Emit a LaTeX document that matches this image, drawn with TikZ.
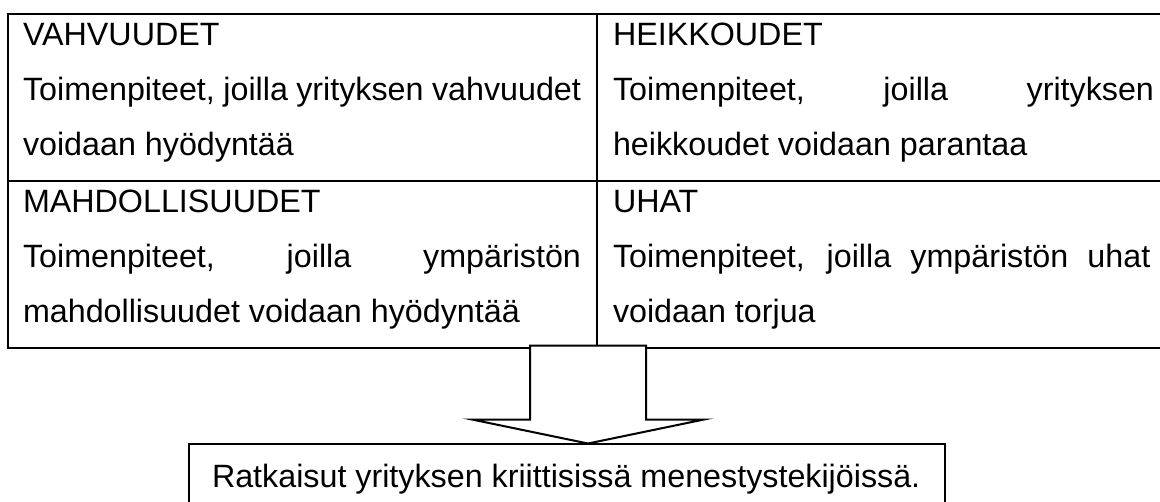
\documentclass[tikz,border=0pt]{standalone}
\usepackage{fontspec}
\setmainfont{Liberation Sans}
\begin{document}
\begin{tikzpicture}[x=0.75pt,y=-0.75pt,
  font=\fontsize{24.2pt}{29pt}\selectfont,
  cell/.style={draw,line width=1.7pt,minimum width=#1,minimum height=125.25pt,
    anchor=north west,inner sep=0pt,outer sep=0pt},
  txt/.style={anchor=base west,inner sep=0pt,outer sep=0pt},
  resultbox/.style={draw,line width=1.5pt,minimum width=567pt,minimum height=60pt,
    anchor=north west,inner sep=0pt,outer sep=0pt},
  bigarrow/.style={draw,fill=white,line width=1.5pt,line join=miter}]
\useasboundingbox (0,0) rectangle (1160,501);
\clip (0,0) rectangle (1160,501);

% SWOT table cells
\node[cell=441.75pt] (vahv) at (8,14) {};
\node[cell=429.75pt] (heik) at (597,14) {};
\node[cell=441.75pt] (mahd) at (8,181) {};
\node[cell=429.75pt] (uhat) at (597,181) {};

% cell texts
\node[txt] (vahv1) at (23,45) {VAHVUUDET};
\node[txt] (vahv2) at (23,100) {\makebox[418.5pt][s]{Toimenpiteet, joilla yrityksen vahvuudet}};
\node[txt] (vahv3) at (23,155) {voidaan hyödyntää};

\node[txt] (heik1) at (613,45) {HEIKKOUDET};
\node[txt] (heik2) at (613,100) {\makebox[405.75pt][s]{Toimenpiteet,\hfill joilla\hfill yrityksen}};
\node[txt] (heik3) at (613,155) {heikkoudet voidaan parantaa};

\node[txt] (mahd1) at (23,212) {MAHDOLLISUUDET};
\node[txt] (mahd2) at (23,267) {\makebox[418.5pt][s]{Toimenpiteet,\hfill joilla\hfill ympäristön}};
\node[txt] (mahd3) at (23,322) {mahdollisuudet voidaan hyödyntää};

\node[txt] (uhat1) at (613,212) {UHAT};
\node[txt] (uhat2) at (613,267) {\makebox[403pt][s]{Toimenpiteet, joilla ympäristön uhat}};
\node[txt] (uhat3) at (613,322) {voidaan torjua};

% result box
\node[resultbox] (tulos) at (189,443.5) {};
\node[txt] (tulosT) at (212,487) {Ratkaisut yrityksen kriittisissä menestystekijöissä.};

% block arrow from the table down to the result box
\coordinate (alku) at (588,345.5);
\coordinate (tip) at (588,443.5);
\draw[bigarrow] ([xshift=-43.5pt]alku) -- ([xshift=43.5pt]alku)
  -- ([xshift=43.5pt,yshift=18pt]tip) -- ([xshift=87pt,yshift=18pt]tip)
  -- (tip)
  -- ([xshift=-87pt,yshift=18pt]tip) -- ([xshift=-43.5pt,yshift=18pt]tip)
  -- cycle;
\end{tikzpicture}
\end{document}
